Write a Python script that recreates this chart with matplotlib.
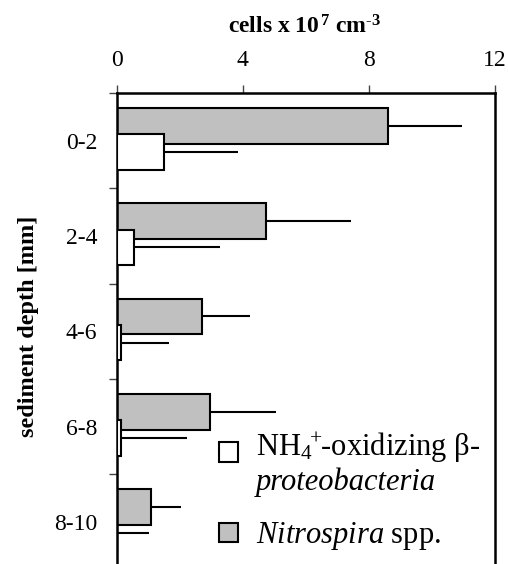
import matplotlib
matplotlib.use("Agg")
import matplotlib.pyplot as plt
from matplotlib.patches import Rectangle
import numpy as np

# ---- data ----
depths = ["0-2", "2-4", "4-6", "6-8", "8-10"]
nitrospira = [8.62, 4.73, 2.71, 2.96, 1.08]
nitrospira_err = [2.33, 2.70, 1.52, 2.09, 0.95]
ammonia_ox = [1.51, 0.56, 0.14, 0.14, 0.0]
ammonia_ox_err = [2.33, 2.72, 1.51, 2.08, 1.03]
xticks = [0, 4, 8, 12]

gray = "#c0c0c0"
white = "#ffffff"

plt.rcParams["font.family"] = ["Liberation Serif", "DejaVu Serif"]
plt.rcParams["mathtext.fontset"] = "custom"
plt.rcParams["mathtext.rm"] = "Liberation Serif"
plt.rcParams["mathtext.it"] = "Liberation Serif:italic"
plt.rcParams["mathtext.bf"] = "Liberation Serif:bold"

W, H = 509, 564
fig = plt.figure(figsize=(W / 100, H / 100), dpi=100)
ax_l, ax_r, ax_t, ax_b = 116.7, 495.0, 93.0, 569.5
ax = fig.add_axes([ax_l / W, 1 - ax_b / H, (ax_r - ax_l) / W, (ax_b - ax_t) / H])

y = np.arange(len(depths))
bh = 0.373
lw = 1.5
ax.barh(y - 0.155, nitrospira, height=bh, color=gray, edgecolor="black", linewidth=lw, zorder=2)
ax.errorbar(nitrospira, y - 0.155, xerr=[np.zeros(len(y)), nitrospira_err], fmt="none",
            ecolor="black", elinewidth=lw, capsize=0, zorder=2.5)
ax.barh(y + 0.12, ammonia_ox, height=bh, color=white, edgecolor="black", linewidth=lw, zorder=3)
ax.errorbar(ammonia_ox, y + 0.12, xerr=[np.zeros(len(y)), ammonia_ox_err], fmt="none",
            ecolor="black", elinewidth=lw, capsize=0, zorder=3.5)

ax.set_xlim(0, 12)
ax.set_ylim(len(depths) - 0.5, -0.5)

ax.xaxis.tick_top()
ax.set_xticks(xticks)
ax.set_xticklabels([str(v) for v in xticks])
ax.tick_params(axis="x", direction="out", length=5.5, width=1.0, pad=10, labelsize=17, color="#444444")

ax.set_yticks(y)
ax.set_yticklabels(depths)
ax.tick_params(axis="y", which="major", length=0, pad=14, labelsize=17)
ax.set_yticks(np.arange(-0.5, len(depths) - 0.5, 1.0), minor=True)
ax.tick_params(axis="y", which="minor", direction="out", length=6, width=1.0, color="#444444")

for s in ["left", "top", "right"]:
    ax.spines[s].set_linewidth(1.8)
ax.spines["bottom"].set_visible(False)

fig.text(305 / W, 1 - 34 / H, r"cells x 10$^{\,\mathbf{7}}$ cm$^{\mathbf{\text{-}3}}$",
         ha="center", va="baseline", fontsize=17, fontweight="bold")
fig.text(28.5 / W, 1 - 326 / H, "sediment depth [mm]", rotation=90,
         ha="center", va="center", fontsize=17.5, fontweight="bold")

# legend (manual)
for (y0, col) in [(442.3, white), (522.7, gray)]:
    fig.add_artist(Rectangle((219 / W, 1 - (y0 + 19.3) / H), 19.3 / W, 19.3 / H,
                             transform=fig.transFigure, facecolor=col,
                             edgecolor="black", linewidth=lw))
fig.text(256 / W, 1 - 456 / H, r"NH$_4$$^{\!\!+\!\!}$-oxidizing β-", ha="left", va="baseline", fontsize=22)
fig.text(256 / W, 1 - 490 / H, "proteobacteria", ha="left", va="baseline", fontsize=22, style="italic")
fig.text(256 / W, 1 - 543.3 / H, r"$\mathit{Nitrospira}$ spp.", ha="left", va="baseline", fontsize=22)

fig.savefig("out.png", dpi=100)
